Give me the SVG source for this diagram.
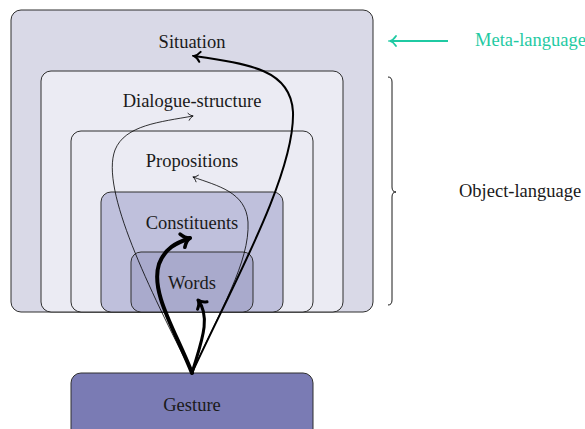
<svg xmlns="http://www.w3.org/2000/svg" width="585" height="429" viewBox="0 0 585 429">
<style>
.box{stroke:#2e2e2e;stroke-width:1}
.lbl{font-family:"Liberation Serif","Times New Roman",serif;font-size:18.5px;fill:#1a1a1a;text-anchor:middle}
.side{font-family:"Liberation Serif","Times New Roman",serif;font-size:18.5px}
.arr{fill:none;stroke:#000;stroke-linecap:round}
</style>
<defs>
<marker id="hThin" markerUnits="userSpaceOnUse" viewBox="-6 -5 8 10" markerWidth="8" markerHeight="10" refX="0" refY="0" orient="auto">
<path d="M-4.5,-3.5 C-3,-1.5 -1,-0.3 0,0 C-1,0.3 -3,1.5 -4.5,3.5" fill="none" stroke="#000" stroke-width="0.8" stroke-linecap="round"/>
</marker>
<marker id="hMed" markerUnits="userSpaceOnUse" viewBox="-8 -7 10 14" markerWidth="10" markerHeight="14" refX="0" refY="0" orient="auto">
<path d="M-6,-5 C-4,-2 -1.5,-0.4 0,0 C-1.5,0.4 -4,2 -6,5" fill="none" stroke="#000" stroke-width="2" stroke-linecap="round"/>
</marker>
<marker id="hThick3" markerUnits="userSpaceOnUse" viewBox="-10 -9 13 18" markerWidth="13" markerHeight="18" refX="0" refY="0" orient="auto">
<path d="M-7,-6 C-5,-2.5 -2,-0.5 0,0 C-2,0.5 -5,2.5 -7,6" fill="none" stroke="#000" stroke-width="3" stroke-linecap="round"/>
</marker>
<marker id="hThick4" markerUnits="userSpaceOnUse" viewBox="-11 -10 14 20" markerWidth="14" markerHeight="20" refX="0" refY="0" orient="auto">
<path d="M-8,-7 C-5.5,-3 -2,-0.5 0,0 C-2,0.5 -5.5,3 -8,7" fill="none" stroke="#000" stroke-width="3.6" stroke-linecap="round"/>
</marker>
<marker id="hTeal" markerUnits="userSpaceOnUse" viewBox="-8 -7 10 14" markerWidth="10" markerHeight="14" refX="0" refY="0" orient="auto">
<path d="M-6,-5 C-4,-2 -1.5,-0.4 0,0 C-1.5,0.4 -4,2 -6,5" fill="none" stroke="#1fcaa3" stroke-width="1.8" stroke-linecap="round"/>
</marker>
</defs>
<rect width="585" height="429" fill="#fff"/>

<g id="situation">
<rect class="box" x="11" y="10" width="362" height="302" rx="10" fill="#d9d9e7"/>
<text class="lbl" x="192" y="47.5">Situation</text>
</g>
<g id="dialogue-structure">
<rect class="box" x="41" y="71" width="302" height="241" rx="10" fill="#ebebf3"/>
<text class="lbl" x="192" y="107">Dialogue-structure</text>
</g>
<g id="propositions">
<rect class="box" x="71" y="131" width="242" height="181" rx="10" fill="#ebebf3"/>
<text class="lbl" x="192" y="167">Propositions</text>
</g>
<g id="constituents">
<rect class="box" x="101" y="192" width="182" height="120" rx="10" fill="#bfc0dc"/>
<text class="lbl" x="192" y="229">Constituents</text>
</g>
<g id="words">
<rect class="box" x="131" y="252" width="122" height="60" rx="10" fill="#a9aacc"/>
<text class="lbl" x="192" y="288.5">Words</text>
</g>
<g id="gesture">
<rect class="box" x="71" y="373" width="242" height="80" rx="10" fill="#7a7bb4"/>
<text class="lbl" x="192" y="410.5">Gesture</text>
</g>

<g id="connectors">
<path class="arr" stroke-width="2" d="M192,373 C230,290 295,175 293,112 C291,70 250,64 194,56" marker-end="url(#hMed)"/>
<path class="arr" stroke-width="0.8" d="M192,373 C150,290 100,190 115,150 C125,125 160,122 193,116" marker-end="url(#hThin)"/>
<path class="arr" stroke-width="0.8" d="M192,373 C220,310 250,262 248,222 C246,192 218,186 193,177" marker-end="url(#hThin)"/>
<path class="arr" stroke-width="4" d="M192,373 C175,330 150,292 159,264 C165,248 176,243 190,238" marker-end="url(#hThick4)"/>
<path class="arr" stroke-width="3" d="M192,373 C200,345 212,318 198,300" marker-end="url(#hThick3)"/>
</g>

<g id="meta-language">
<line x1="448" y1="41" x2="390" y2="41" stroke="#1fcaa3" stroke-width="1.8" marker-end="url(#hTeal)"/>
<text class="side" x="475" y="46" fill="#1fcaa3">Meta-language</text>
</g>
<g id="object-language">
<path d="M388,77 Q392,77 392,82 L392,187 Q392,192 396,192 Q392,192 392,197 L392,300 Q392,305 388,305" fill="none" stroke="#1a1a1a" stroke-width="1"/>
<text class="side" x="459" y="197" fill="#1a1a1a">Object-language</text>
</g>
</svg>
